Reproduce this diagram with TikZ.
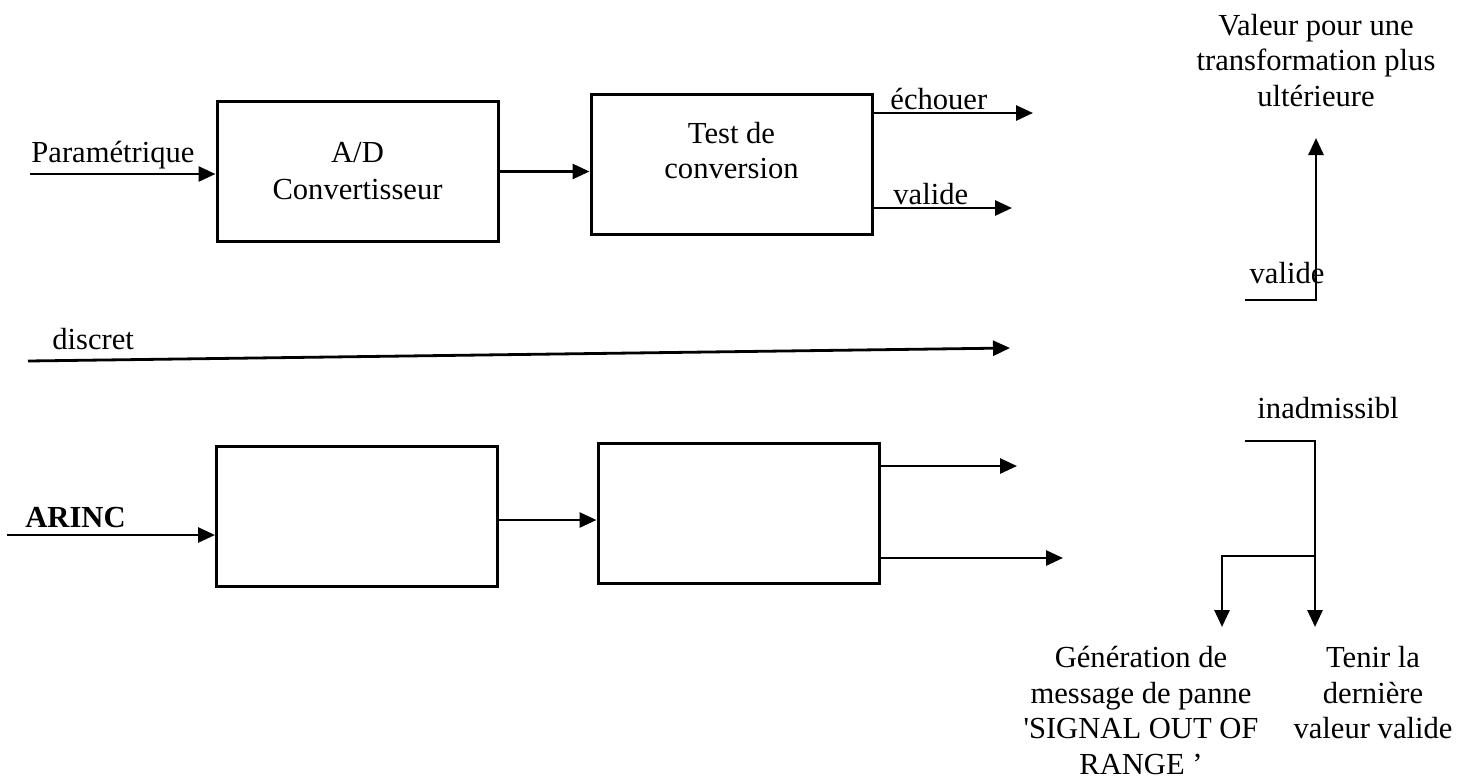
\documentclass[tikz,border=0pt]{standalone}
\usepackage{fontspec}
\setmainfont{Liberation Serif}[Ligatures=TeXOff]
\usetikzlibrary{arrows.meta}
\usetikzlibrary{positioning}

\tikzset{
	blk/.style={draw, line width=1.5pt, minimum width=140.5pt, minimum height=70pt, inner sep=0pt,
		font=\fontsize{15.3}{18.5}\selectfont, align=center},
	lbl/.style={font=\fontsize{15.3}{17.8}\selectfont, inner sep=0pt, align=center},
	sig/.style={line width=1.4pt, -{Triangle[length=8.5pt,width=7.5pt]}},
}

\begin{document}
\begin{tikzpicture}[x=0.5pt,y=-0.5pt]
	\useasboundingbox (0,0) rectangle (1470,782);
	
	% parametric chain
	\node[blk] (adc) at (357.5,171.5) {A/D\\Convertisseur};
	\node[blk] (tst) at (731.5,164) {};
	\node[lbl, font=\fontsize{15.3}{17.5}\selectfont] (tsttxt) at ([yshift=6.75pt]tst.center) {Test de\\conversion};
	
	\coordinate (pin) at (30,174);
	\node[lbl, anchor=base west] (parlbl) at (31,162) {Paramétrique};
	\draw[sig] (pin) -- (pin -| adc.west);
	\draw[sig] (adc.east) -- (adc.east -| tst.west);
	
	\coordinate (fail) at (1033,113);
	\coordinate (ok) at (1012,208);
	\draw[sig] (tst.east |- fail) -- (fail);
	\draw[sig] (tst.east |- ok) -- (ok);
	\node[lbl, anchor=base west] (faillbl) at (890,109) {échouer};
	\node[lbl, anchor=base west] (oklbl) at (893,204) {valide};
	
	% discrete line
	\coordinate (din) at (28,361);
	\coordinate (dout) at (1010,348);
	\draw[sig] (din) -- (dout);
	\node[lbl, anchor=base west] (dlbl) at (52,349) {discret};
	
	% ARINC chain
	\node[blk] (arc) at (357,516) {};
	\node[blk] (arct) at (738.5,513.5) {};
	\coordinate (ain) at (7,535);
	\node[lbl, anchor=base west, font=\fontsize{15.3}{17.8}\selectfont\bfseries] (alb) at (25,527) {ARINC};
	\draw[sig] (ain) -- (ain -| arc.west);
	\draw[sig] (arc.east |- 0,520) -- (arct.west |- 0,520);
	\coordinate (o1) at (1017,466);
	\coordinate (o2) at (1063,558);
	\draw[sig] (arct.east |- o1) -- (o1);
	\draw[sig] (arct.east |- o2) -- (o2);
	
	% valid branch
	\coordinate (vin) at (1245,300);
	\node[lbl, anchor=south, inner ysep=15.5pt] (val) at (1316,138) {Valeur pour une\\transformation plus\\ultérieure};
	\draw[sig] (vin) -| (val.south);
	\node[lbl, anchor=base] (vlbl) at (1287,283) {valide};
	
	% invalid branch
	\coordinate (iin) at (1245,441);
	\coordinate (ibr) at (1315,556);
	\coordinate (mbr) at (1222,556);
	\node[lbl, anchor=base] (ilbl) at (1328,418) {inadmissibl};
	\node[lbl, anchor=north, inner ysep=9.5pt] (msg) at (1141,627) {Génération de\\message de panne\\'SIGNAL OUT OF\\RANGE ’};
	\node[lbl, anchor=north, inner ysep=9.5pt] (hold) at (1373,627) {Tenir la\\dernière\\valeur valide};
	\draw[sig] (iin) -| (ibr |- hold.north);
	\draw[sig] (ibr) -| (mbr |- msg.north);
\end{tikzpicture}
\end{document}
